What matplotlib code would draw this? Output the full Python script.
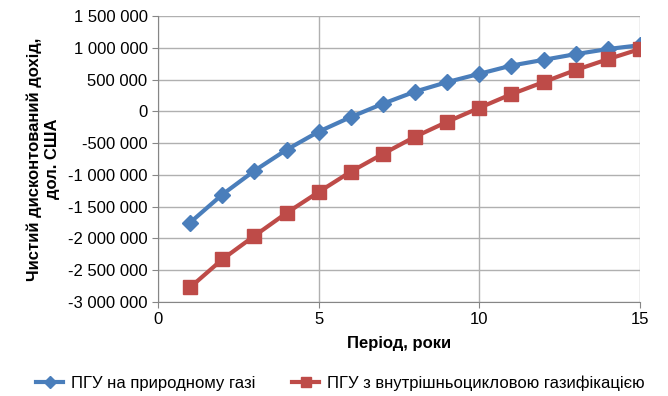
import numpy as np
import matplotlib
matplotlib.use("Agg")
from matplotlib import pyplot as plt
from matplotlib.ticker import FuncFormatter

# data
years = [1, 2, 3, 4, 5, 6, 7, 8, 9, 10, 11, 12, 13, 14, 15]
gas = [-1750000, -1310000, -935000, -605000, -320000, -90000, 120000, 310000,
       460000, 590000, 720000, 810000, 900000, 980000, 1040000]
igcc = [-2770000, -2330000, -1960000, -1600000, -1270000, -950000, -670000, -400000,
        -165000, 55000, 270000, 460000, 650000, 820000, 980000]
labels = ["ПГУ на природному газі", "ПГУ з внутрішньоцикловою газифікацією"]

plt.rcParams['font.family'] = ['Liberation Sans', 'DejaVu Sans']

fig = plt.figure(figsize=(6.68, 3.96), dpi=100)
ax = fig.add_axes([0.2365, 0.2374, 0.7215, 0.7222])

ax.plot(years, gas, color='#4a7ebb', lw=3, marker='D', ms=8, label=labels[0])
ax.plot(years, igcc, color='#be4b48', lw=3, marker='s', ms=10, label=labels[1])

ax.set_xlim(0, 15)
ax.set_ylim(-3000000, 1500000)
ax.set_xticks([0, 5, 10, 15])
ax.set_yticks(np.arange(-3000000, 1500001, 500000))
ax.yaxis.set_major_formatter(FuncFormatter(lambda v, p: f"{int(v):,}".replace(",", " ")))
ax.tick_params(labelsize=12, color='#868686', length=4)
ax.grid(True, color='#b0b0b0', lw=1)
ax.set_axisbelow(True)
for s in ['top', 'right']:
    ax.spines[s].set_visible(False)
for s in ['left', 'bottom']:
    ax.spines[s].set_color('#868686')

ax.set_xlabel("Період, роки", fontsize=12, fontweight='bold', labelpad=6)
ax.set_ylabel("Чистий дисконтований дохід,\nдол. США", fontsize=12, fontweight='bold', labelpad=6)

fig.legend(loc='lower center', bbox_to_anchor=(0.51, -0.025), ncol=2, frameon=False,
           fontsize=12, handlelength=1.6, handletextpad=0.5, columnspacing=2.2,
           markerscale=0.75)

fig.savefig("out.png", dpi=100)
